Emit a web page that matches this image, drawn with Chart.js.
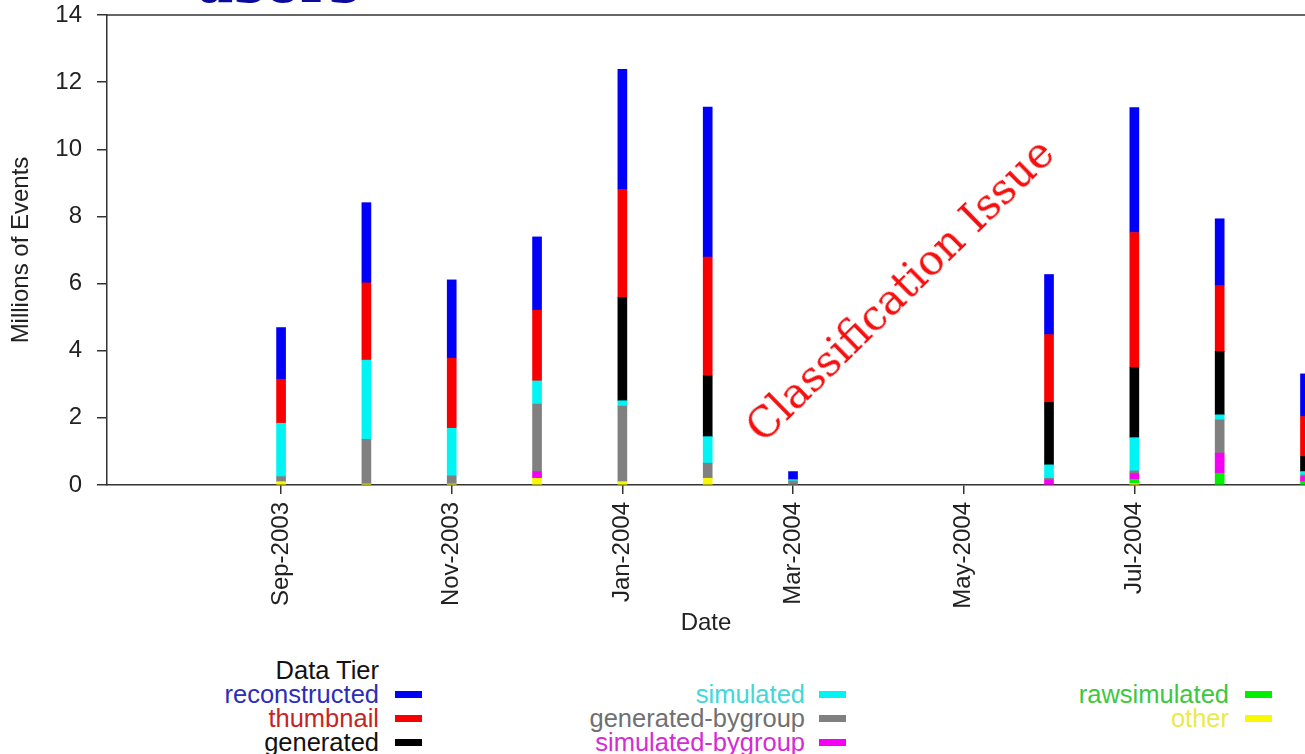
<!DOCTYPE html>
<html>
<head>
<meta charset="utf-8">
<script src="https://cdn.jsdelivr.net/npm/chart.js@4.4.1/dist/chart.umd.min.js"></script>
<style>
  body { margin: 0; background: #fff; width: 1305px; height: 754px; overflow: hidden; position: relative; font-family: "Liberation Sans", Arial, sans-serif; }
  #wrap { position: absolute; left: 0; top: 0; width: 1305px; height: 650px; }
  .users { position: absolute; left: 194px; top: -45px; font: bold 55px/1 "DejaVu Serif", serif; color: #0a0a9c; }
  .issue { position: absolute; left: 900px; top: 290px; transform: translate(-50%, -50%) rotate(-44.5deg); font: 42px/1 "DejaVu Serif", serif; color: #f41010; white-space: nowrap; }
  .leg { position: absolute; font-size: 25.5px; line-height: 26px; white-space: nowrap; text-align: right; }
  .sw { position: absolute; width: 27px; height: 7px; }
</style>
</head>
<body>
<div class="users">users</div>
<div id="wrap"><canvas id="chart"></canvas></div>
<div class="issue">Classification Issue</div>
<div id="legend"></div>
<script>
// months on the x axis, index 0 = Sep-2003
const months = ["Sep-2003", "Oct-2003", "Nov-2003", "Dec-2003", "Jan-2004", "Feb-2004", "Mar-2004",
  "Apr-2004", "May-2004", "Jun-2004", "Jul-2004", "Aug-2004", "Sep-2004"];
const tickLabels = ["Sep-2003", "Nov-2003", "Jan-2004", "Mar-2004", "May-2004", "Jul-2004"];

const tiers = ["reconstructed", "thumbnail", "generated", "simulated",
  "generated-bygroup", "simulated-bygroup", "rawsimulated", "other"];

// millions of events per month
const reconstructed    = [1.54, 2.39, 2.33, 2.18, 3.57, 4.47, 0.24, 0, 0, 1.79, 3.72, 1.99, 1.27];
const thumbnail        = [1.31, 2.30, 2.09, 2.11, 3.22, 3.54, 0, 0, 0, 2.02, 4.02, 1.96, 1.19];
const generated        = [0, 0, 0, 0, 3.08, 1.81, 0, 0, 0, 1.86, 2.09, 1.89, 0.45];
const simulated        = [1.59, 2.36, 1.42, 0.69, 0.16, 0.79, 0.04, 0, 0, 0.40, 0.99, 0.15, 0.10];
const generatedBygroup = [0.15, 1.33, 0.24, 2.01, 2.25, 0.45, 0.12, 0, 0, 0.05, 0.08, 0.99, 0.05];
const simulatedBygroup = [0, 0, 0, 0.20, 0, 0, 0, 0, 0, 0.15, 0.17, 0.60, 0.15];
const rawsimulated     = [0, 0, 0, 0, 0, 0, 0, 0, 0, 0, 0.12, 0.35, 0.10];
const other            = [0.10, 0.03, 0.03, 0.20, 0.10, 0.20, 0, 0, 0, 0, 0.05, 0, 0];

const tierValues = [reconstructed, thumbnail, generated, simulated,
  generatedBygroup, simulatedBygroup, rawsimulated, other];

const barColors  = ["#0000f8", "#f80000", "#000000", "#00f4f4", "#808080", "#f400f4", "#00f000", "#f8f800"];
const textColors = ["#2d2db8", "#c82424", "#111111", "#40d8d8", "#707070", "#d42cd4", "#3cc83c", "#eaea4a"];

const font = "'Liberation Sans', Arial, sans-serif";

// stack order bottom -> top is the reverse of the legend order
const datasets = tiers.map((name, i) => ({
  label: name,
  data: tierValues[i].map((v, j) => ({ x: j, y: v || null })),
  backgroundColor: barColors[i],
  borderWidth: 0,
  barThickness: 9
})).reverse();

// top line of the plot box
const topFrame = {
  id: "topFrame",
  afterDraw(chart) {
    const { ctx, chartArea: a } = chart;
    ctx.save();
    ctx.strokeStyle = "#333";
    ctx.lineWidth = 1.5;
    ctx.beginPath();
    ctx.moveTo(a.left, a.top);
    ctx.lineTo(a.right, a.top);
    ctx.stroke();
    ctx.restore();
  }
};

new Chart(document.getElementById("chart"), {
  type: "bar",
  data: { datasets },
  plugins: [topFrame],
  options: {
    responsive: true,
    maintainAspectRatio: false,
    animation: false,
    devicePixelRatio: 1,
    layout: { padding: { top: 15, left: 0, right: 0, bottom: 0 } },
    plugins: { legend: { display: false }, tooltip: { enabled: false } },
    scales: {
      x: {
        type: "linear",
        stacked: true,
        min: -2.04,
        max: 12,
        offset: false,
        afterBuildTicks: s => { s.ticks = tickLabels.map(l => ({ value: months.indexOf(l) })); },
        afterFit: s => { s.height = 165; s.paddingLeft = 0; s.paddingRight = 0; },
        ticks: {
          callback: v => months[v],
          minRotation: 90, maxRotation: 90, autoSkip: false,
          padding: 8, color: "#222", font: { size: 24, family: font }
        },
        grid: { drawOnChartArea: false, offset: false, tickLength: 9, color: "#333", lineWidth: 1.5 },
        border: { color: "#333", width: 1.5 },
        title: { display: true, text: "Date", color: "#222", font: { size: 24, family: font }, padding: { top: 0, bottom: 12 } }
      },
      y: {
        stacked: true,
        min: 0,
        max: 14,
        afterFit: s => { s.width = 107; s.paddingTop = 0; s.paddingBottom = 0; },
        ticks: { stepSize: 2, padding: 15, color: "#222", font: { size: 24, family: font } },
        grid: { drawOnChartArea: false, tickLength: 10, color: "#333", lineWidth: 1.5 },
        border: { color: "#333", width: 1.5 },
        title: { display: true, text: "Millions of Events", color: "#222", font: { size: 24, family: font }, padding: { top: 7, bottom: 0 } }
      }
    }
  }
});

// ------------------ LEGEND ------------------ //
const legend = document.getElementById("legend");
const colRight = [379, 805, 1229];
const swLeft = [395, 819, 1245];
const rowY = [670, 694, 718, 742];
const legendCols = [[0, 1, 2], [3, 4, 5], [6, 7]];

function addText(text, color, col, row) {
  const d = document.createElement("div");
  d.className = "leg";
  d.textContent = text;
  d.style.color = color;
  d.style.right = (1305 - colRight[col]) + "px";
  d.style.top = (rowY[row] - 13) + "px";
  legend.appendChild(d);
}

addText("Data Tier", "#111", 0, 0);
legendCols.forEach((list, col) => {
  list.forEach((t, r) => {
    addText(tiers[t], textColors[t], col, r + 1);
    const sw = document.createElement("div");
    sw.className = "sw";
    sw.style.background = barColors[t];
    sw.style.left = swLeft[col] + "px";
    sw.style.top = (rowY[r + 1] - 3) + "px";
    legend.appendChild(sw);
  });
});
</script>
</body>
</html>
